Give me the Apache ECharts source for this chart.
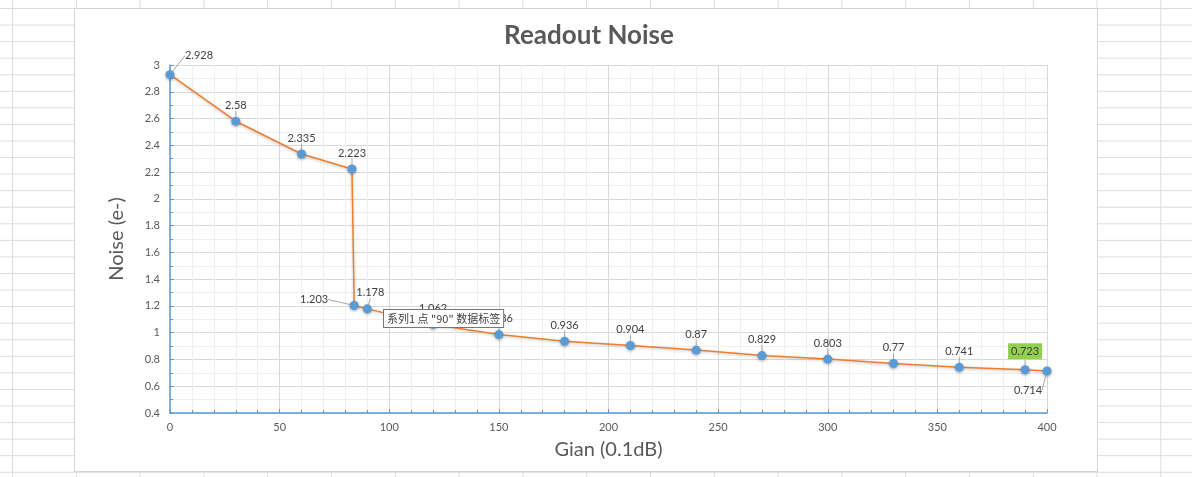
<!DOCTYPE html>
<html>
<head>
<meta charset="utf-8">
<script src="https://cdn.jsdelivr.net/npm/echarts@6/dist/echarts.min.js"></script>
<style>
  html, body { margin: 0; padding: 0; }
  body {
    width: 1192px; height: 477px; overflow: hidden; position: relative;
    background-color: #fff;
    background-image:
      linear-gradient(to right, #dcdcdc 1px, transparent 1px),
      linear-gradient(to bottom, #dcdcdc 1px, transparent 1px);
    background-size: 63.8px 16.57px;
    background-position: 12px 8px;
  }
  #frame {
    position: absolute; left: 74px; top: 8px; width: 1022px; height: 462px;
    background: #fff; border: 1px solid #d4d4d4;
  }
  #main { position: absolute; left: 0; top: 0; width: 1192px; height: 477px; }
</style>
</head>
<body>
<div id="frame"></div>
<div id="main"></div>
<script>
// gain in 0.1dB steps, readout noise in e-
var gainX = [0, 30, 60, 83, 84, 90, 120, 150, 180, 210, 240, 270, 300, 330, 360, 390, 400];
var noiseY = [2.928, 2.58, 2.335, 2.223, 1.203, 1.178, 1.062, 0.986, 0.936, 0.904, 0.87, 0.829, 0.803, 0.77, 0.741, 0.723, 0.714];

var xTicks = { min: 0, max: 400, interval: 50 };
var yTicks = { min: 0.4, max: 3, interval: 0.2 };

var txt = "#595959";
var fontMain = "Lato, 'Open Sans', 'Noto Sans', sans-serif";

// labels that Excel moved away from the point (with leader lines)
var movedLabels = {
  0: { dx: 29, dy: -3 },
  4: { dx: -40, dy: 10 },
  5: { dx: 3, dy: 0 },
  16: { dx: -19, dy: 35 }
};

function buildData() {
  var out = [];
  for (var i = 0; i < gainX.length; i++) {
    var d = { value: [gainX[i], noiseY[i]] };
    if (i == 15) {
      d.label = { backgroundColor: "#92D050", padding: [3, 3, 2, 3] };
    }
    out.push(d);
  }
  return out;
}

var chartDom = document.getElementById("main");
var myChart = echarts.init(chartDom, null, { renderer: "canvas" });
var option;

option = {
  backgroundColor: "transparent",
  animation: false,
  title: {
    text: "Readout Noise",
    left: 584,
    top: 18,
    textAlign: "center",
    textStyle: { fontFamily: fontMain, fontSize: 26, fontWeight: "bold", color: txt }
  },
  grid: { left: 170, right: 145, top: 65, bottom: 64, containLabel: false },
  xAxis: {
    type: "value",
    min: xTicks.min,
    max: xTicks.max,
    interval: xTicks.interval,
    name: "Gian (0.1dB)",
    nameLocation: "middle",
    nameGap: 27,
    nameTextStyle: { fontFamily: fontMain, fontSize: 20, color: txt },
    axisLine: { show: true, lineStyle: { color: "#5B9BD5", width: 1.5 } },
    axisTick: { show: true, inside: true, length: 4, lineStyle: { color: "#5B9BD5" } },
    minorTick: { show: true, splitNumber: 5, length: 3, lineStyle: { color: "#5B9BD5" } },
    axisLabel: { fontFamily: fontMain, fontSize: 11, color: txt, margin: 9 },
    splitLine: { show: true, lineStyle: { color: "#d9d9d9", width: 1 } },
    minorSplitLine: { show: true, lineStyle: { color: "#efefef", width: 1 } }
  },
  yAxis: {
    type: "value",
    min: yTicks.min,
    max: yTicks.max,
    interval: yTicks.interval,
    name: "Noise (e-)",
    nameLocation: "middle",
    nameGap: 43,
    nameTextStyle: { fontFamily: fontMain, fontSize: 20, color: txt },
    axisLine: { show: true, lineStyle: { color: "#5B9BD5", width: 1.5 } },
    axisTick: { show: true, inside: true, length: 4, lineStyle: { color: "#5B9BD5" } },
    minorTick: { show: true, splitNumber: 2, length: 3, lineStyle: { color: "#5B9BD5" } },
    axisLabel: { fontFamily: fontMain, fontSize: 11, color: txt, margin: 10 },
    splitLine: { show: true, lineStyle: { color: "#d9d9d9", width: 1 } },
    minorSplitLine: { show: true, lineStyle: { color: "#efefef", width: 1 } }
  },
  series: [
    {
      type: "line",
      data: buildData(),
      symbol: "circle",
      symbolSize: 9,
      lineStyle: {
        color: "#ED7D31",
        width: 1.5,
        shadowColor: "rgba(0,0,0,0.25)",
        shadowBlur: 3,
        shadowOffsetY: 1
      },
      itemStyle: {
        color: "#5B9BD5",
        shadowColor: "rgba(0,0,0,0.35)",
        shadowBlur: 3,
        shadowOffsetY: 1
      },
      label: {
        show: true,
        position: "top",
        distance: 6,
        fontFamily: fontMain,
        fontSize: 11,
        color: "#404040",
        formatter: function (p) { return String(p.value[1]); }
      },
      labelLine: {
        show: true,
        lineStyle: { color: "#a6a6a6", width: 1 }
      },
      labelLayout: function (p) {
        var m = movedLabels[p.dataIndex];
        if (m) return { dx: m.dx, dy: m.dy };
        return {};
      },
      z: 3
    }
  ],
  graphic: [
    {
      type: "text",
      left: 383,
      top: 309,
      z: 100,
      style: {
        text: '系列1 点 "90" 数据标签',
        font: "11px 'Noto Sans CJK SC', sans-serif",
        fill: "#404040",
        backgroundColor: "#fff",
        borderColor: "#767676",
        borderWidth: 1,
        padding: [3, 3, 3, 3]
      }
    }
  ]
};
option && myChart.setOption(option);
window.addEventListener("resize", function () {
  myChart.resize();
});
</script>
</body>
</html>
